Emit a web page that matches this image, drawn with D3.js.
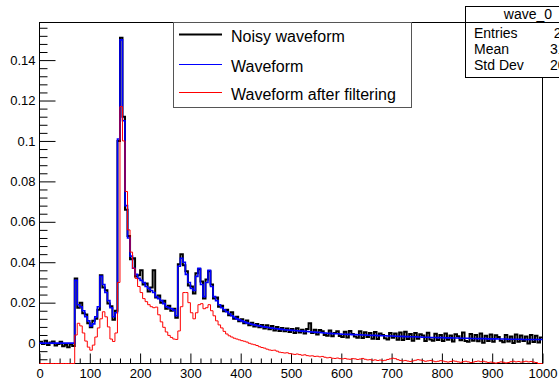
<!DOCTYPE html>
<html>
<head>
<meta charset="utf-8">
<script src="https://cdn.jsdelivr.net/npm/d3@7"></script>
<style>
  body { margin: 0; background: #fff; }
  svg { display: block; }
  text { font-family: "Liberation Sans", Arial, Helvetica, sans-serif; fill: #000; }
</style>
</head>
<body>
<svg id="chart" width="559" height="382"></svg>
<script>
// Histogram binning (bin width in samples) and axis ranges
const binWidth = 5;
const xRange = [0, 1000];
const yRange = [-0.0101, 0.1586];
const xTickValues = [0, 100, 200, 300, 400, 500, 600, 700, 800, 900, 1000];
const yTickValues = [0, 0.02, 0.04, 0.06, 0.08, 0.1, 0.12, 0.14];

// Noisy waveform, one value per bin
const noisy = [
  0.0006, -0.0004, 0.0011, -0.0009, 0.0003, 0.0008, -0.0012, -0.0005, 0.0007, -0.0016,
  -0.0008, -0.0020, -0.0006, -0.0014, 0.0320, 0.0175, 0.0200, 0.0148, 0.0142, 0.0098,
  0.0078, 0.0110, 0.0120, 0.0165, 0.0335, 0.0275, 0.0262, 0.0196, 0.0182, 0.0115,
  0.0160, 0.1000, 0.1510, 0.1120, 0.0660, 0.0530, 0.0415, 0.0420, 0.0330, 0.0335,
  0.0360, 0.0290, 0.0295, 0.0255, 0.0275, 0.0360, 0.0225, 0.0235, 0.0200, 0.0210,
  0.0170, 0.0185, 0.0160, 0.0170, 0.0125, 0.0390, 0.0440, 0.0385, 0.0355, 0.0285,
  0.0280, 0.0245, 0.0345, 0.0365, 0.0305, 0.0220, 0.0315, 0.0355, 0.0290, 0.0220,
  0.0225, 0.0180, 0.0185, 0.0158, 0.0165, 0.0138, 0.0152, 0.0120, 0.0130, 0.0108,
  0.0118, 0.0098, 0.0112, 0.0088, 0.0100, 0.0082, 0.0095, 0.0078, 0.0090, 0.0072,
  0.0088, 0.0068, 0.0085, 0.0062, 0.0080, 0.0060, 0.0075, 0.0058, 0.0072, 0.0055,
  0.0070, 0.0050, 0.0074, 0.0052, 0.0066, 0.0048, 0.0070, 0.0098, 0.0050, 0.0066,
  0.0042, 0.0065, 0.0058, 0.0040, 0.0036, 0.0062, 0.0034, 0.0050, 0.0058, 0.0035,
  0.0030, 0.0056, 0.0028, 0.0060, 0.0045, 0.0032, 0.0026, 0.0058, 0.0025, 0.0054,
  0.0030, 0.0050, 0.0022, 0.0055, 0.0020, 0.0048, 0.0040, 0.0024, 0.0018, 0.0050,
  0.0026, 0.0047, 0.0016, 0.0052, 0.0015, 0.0056, 0.0020, 0.0045, 0.0012, 0.0050,
  0.0022, 0.0044, 0.0038, 0.0010, 0.0051, 0.0018, 0.0012, 0.0046, 0.0015, 0.0040,
  0.0010, 0.0048, 0.0016, 0.0038, 0.0008, 0.0044, 0.0034, 0.0014, 0.0052, 0.0010,
  0.0006, 0.0045, 0.0012, 0.0040, 0.0009, 0.0048, 0.0002, 0.0036, 0.0010, 0.0043,
  0.0007, 0.0039, 0.0030, 0.0012, 0.0004, 0.0040, 0.0008, 0.0033, 0.0000, 0.0042,
  0.0006, 0.0038, 0.0010, 0.0032, -0.0002, 0.0040, 0.0005, 0.0036, 0.0003, 0.0028
];

// Clean waveform, one value per bin
const waveform = [
  0, 0, 0, 0, 0, 0, 0, 0, 0, 0,
  0, 0, 0, 0, 0.031, 0.019, 0.018, 0.016, 0.013, 0.011,
  0.0085, 0.0095, 0.013, 0.018, 0.033, 0.029, 0.025, 0.021, 0.0175, 0.013,
  0.015, 0.101, 0.150, 0.110, 0.068, 0.052, 0.043, 0.037, 0.034, 0.032,
  0.031, 0.030, 0.028, 0.027, 0.026, 0.025, 0.023, 0.022, 0.021, 0.0195,
  0.018, 0.0175, 0.017, 0.0163, 0.0135, 0.038, 0.042, 0.040, 0.034, 0.030,
  0.027, 0.026, 0.033, 0.037, 0.029, 0.023, 0.030, 0.036, 0.028, 0.023,
  0.021, 0.019, 0.0175, 0.0165, 0.0155, 0.0145, 0.0135, 0.0127, 0.012, 0.0115,
  0.011, 0.0105, 0.010, 0.0097, 0.0093, 0.009, 0.0087, 0.0085, 0.0082, 0.008,
  0.0078, 0.0076, 0.0074, 0.0072, 0.0071, 0.0069, 0.0068, 0.0066, 0.0065, 0.0064,
  0.0063, 0.0062, 0.0061, 0.0060, 0.0059, 0.0058, 0.0057, 0.0056, 0.0055, 0.0054,
  0.0053, 0.0052, 0.0051, 0.0050, 0.0049, 0.0048, 0.0047, 0.0046, 0.0046, 0.0045,
  0.0044, 0.0044, 0.0043, 0.0043, 0.0042, 0.0042, 0.0041, 0.0041, 0.0040, 0.0040,
  0.0039, 0.0039, 0.0038, 0.0038, 0.0037, 0.0037, 0.0036, 0.0036, 0.0035, 0.0035,
  0.0035, 0.0034, 0.0034, 0.0033, 0.0033, 0.0032, 0.0032, 0.0031, 0.0031, 0.0031,
  0.0030, 0.0030, 0.0029, 0.0029, 0.0029, 0.0028, 0.0028, 0.0028, 0.0027, 0.0027,
  0.0027, 0.0026, 0.0026, 0.0026, 0.0025, 0.0025, 0.0025, 0.0024, 0.0024, 0.0024,
  0.0024, 0.0023, 0.0023, 0.0023, 0.0022, 0.0022, 0.0022, 0.0022, 0.0021, 0.0021,
  0.0021, 0.0021, 0.0020, 0.0020, 0.0020, 0.0020, 0.0019, 0.0019, 0.0019, 0.0019,
  0.0019, 0.0019, 0.0018, 0.0018, 0.0018, 0.0018, 0.0018, 0.0018, 0.0018, 0.0018
];

// Waveform after filtering, one value per bin
const filtered = [
  -0.015, -0.015, -0.015, -0.015, -0.015, -0.015, -0.015, -0.015, -0.015, -0.015,
  -0.015, -0.015, -0.015, -0.012, 0.0040, 0.0098, 0.0085, 0.0050, 0.0010, -0.0020,
  -0.0035, -0.0010, 0.0030, 0.0075, 0.0120, 0.0155, 0.0130, 0.0080, 0.0020, 0.0008,
  0.0050, 0.0300, 0.1170, 0.1000, 0.0750, 0.0560, 0.0450, 0.0370, 0.0320, 0.0280,
  0.0250, 0.0220, 0.0205, 0.0190, 0.0180, 0.0175, 0.0178, 0.0140, 0.0105, 0.0078,
  0.0055, 0.0038, 0.0028, 0.0020, 0.0018, 0.0060, 0.0180, 0.0250, 0.0250, 0.0200,
  0.0150, 0.0120, 0.0150, 0.0190, 0.0195, 0.0170, 0.0175, 0.0190, 0.0160, 0.0135,
  0.0110, 0.0090, 0.0075, 0.0058, 0.0045, 0.0036, 0.0030, 0.0024, 0.0020, 0.0016,
  0.0012, 0.0009, 0.0005, -0.0001, -0.0005, -0.0008, -0.0012, -0.0018, -0.0022, -0.0025,
  -0.0030, -0.0034, -0.0036, -0.0035, -0.0040, -0.0045, -0.0047, -0.0049, -0.0048, -0.0052,
  -0.0054, -0.0056, -0.0054, -0.0057, -0.0060, -0.0058, -0.0062, -0.0064, -0.0063, -0.0066,
  -0.0065, -0.0068, -0.0066, -0.0070, -0.0073, -0.0071, -0.0075, -0.0076, -0.0074, -0.0077,
  -0.0078, -0.0076, -0.0079, -0.0080, -0.0077, -0.0078, -0.0081, -0.0079, -0.0076, -0.0080,
  -0.0083, -0.0082, -0.0085, -0.0083, -0.0086, -0.0084, -0.0087, -0.0085, -0.0081, -0.0078,
  -0.0075, -0.0077, -0.0082, -0.0086, -0.0088, -0.0086, -0.0089, -0.0091, -0.0088, -0.0085,
  -0.0082, -0.0084, -0.0087, -0.0090, -0.0088, -0.0086, -0.0089, -0.0092, -0.0090, -0.0087,
  -0.0089, -0.0092, -0.0094, -0.0091, -0.0088, -0.0090, -0.0093, -0.0095, -0.0092, -0.0090,
  -0.0093, -0.0096, -0.0094, -0.0091, -0.0089, -0.0092, -0.0090, -0.0093, -0.0096, -0.0094,
  -0.0097, -0.0099, -0.0096, -0.0093, -0.0095, -0.0098, -0.0096, -0.0092, -0.0090, -0.0093,
  -0.0091, -0.0094, -0.0092, -0.0090, -0.0093, -0.0091, -0.0094, -0.0096, -0.0120, -0.0150
];

const legendLabels = ["Noisy waveform", "Waveform", "Waveform after filtering"];
const statsTitle = "wave_0";
const statsNames = ["Entries", "Mean", "Std Dev"];
const statsValues = ["2000", "317.2", "206.4"];

// ---- drawing ----
const svg = d3.select("#chart");
const frame = { left: 39.5, right: 542.5, top: 22.5, bottom: 363.5 };

const x = d3.scaleLinear().domain(xRange).range([frame.left, frame.right]);
const y = d3.scaleLinear().domain(yRange).range([frame.bottom, frame.top]).clamp(true);

svg.append("rect").attr("width", 559).attr("height", 382).attr("fill", "#fff");

// Minor ticks (inward, ROOT style)
const xMinor = d3.range(xRange[0], xRange[1] + 1, 20).filter(v => v % 100 !== 0);
const yMinor = d3.range(-0.008, 0.1586, 0.004).map(v => +v.toFixed(3))
  .filter(v => Math.abs(v / 0.02 - Math.round(v / 0.02)) > 1e-6);

const tickFmt = v => v === 0 ? "0" : String(+v.toFixed(2));

const xAxisMinor = svg.append("g").attr("transform", `translate(0,${frame.bottom})`)
  .call(d3.axisBottom(x).tickValues(xMinor).tickSize(-5).tickFormat(""));
const xAxis = svg.append("g").attr("transform", `translate(0,${frame.bottom})`)
  .call(d3.axisBottom(x).tickValues(xTickValues).tickSize(-10).tickPadding(5).tickFormat(d3.format("d")));
const yAxisMinor = svg.append("g").attr("transform", `translate(${frame.left},0)`)
  .call(d3.axisLeft(y).tickValues(yMinor).tickSize(-8).tickFormat(""));
const yAxis = svg.append("g").attr("transform", `translate(${frame.left},0)`)
  .call(d3.axisLeft(y).tickValues(yTickValues).tickSize(-16).tickPadding(4).tickFormat(tickFmt));

[xAxisMinor, xAxis, yAxisMinor, yAxis].forEach(g => {
  g.select(".domain").remove();
  g.selectAll("line").attr("stroke", "#000");
  g.selectAll("text").attr("font-size", 13).attr("fill", "#000")
    .attr("font-family", "'Liberation Sans', Arial, Helvetica, sans-serif");
});

// Frame
svg.append("rect")
  .attr("x", frame.left).attr("y", frame.top)
  .attr("width", frame.right - frame.left).attr("height", frame.bottom - frame.top)
  .attr("fill", "none").attr("stroke", "#000").attr("stroke-width", 1);

// Step outline for a binned series
const stepLine = d3.line().curve(d3.curveStepAfter);
function histPath(values) {
  const pts = values.map((v, i) => [x(i * binWidth), y(v)]);
  pts.push([x(values.length * binWidth), y(values[values.length - 1])]);
  return stepLine(pts);
}

svg.append("defs").append("clipPath").attr("id", "plotClip")
  .append("rect").attr("x", frame.left - 1).attr("y", frame.top - 1)
  .attr("width", frame.right - frame.left + 2).attr("height", frame.bottom - frame.top + 2);

const plot = svg.append("g").attr("clip-path", "url(#plotClip)");
const series = [
  { values: noisy, color: "#000000", width: 2 },
  { values: waveform, color: "#0000ff", width: 1.6 },
  { values: filtered, color: "#ff0000", width: 1 }
];
series.forEach(s => {
  plot.append("path").attr("d", histPath(s.values))
    .attr("fill", "none").attr("stroke", s.color)
    .attr("stroke-width", s.width).attr("stroke-linejoin", "miter");
});

// Legend
const legend = svg.append("g");
legend.append("rect").attr("x", 173.5).attr("y", 22.5).attr("width", 238).attr("height", 85)
  .attr("fill", "#fff").attr("stroke", "#555").attr("stroke-width", 1);
const legendRows = [34.5, 64.5, 92.5];
legendLabels.forEach((label, i) => {
  legend.append("line").attr("x1", 179).attr("x2", 222)
    .attr("y1", legendRows[i]).attr("y2", legendRows[i])
    .attr("stroke", series[i].color).attr("stroke-width", i === 0 ? 2 : 1);
  legend.append("text").attr("x", 231).attr("y", legendRows[i] + 7)
    .attr("font-size", 16).text(label);
});

// Statistics box (runs past the right edge of the canvas)
const stats = svg.append("g");
stats.append("rect").attr("x", 465.5).attr("y", 6.5).attr("width", 140).attr("height", 71)
  .attr("fill", "#fff").attr("stroke", "#000").attr("stroke-width", 1);
stats.append("line").attr("x1", 465.5).attr("x2", 606).attr("y1", 22.5).attr("y2", 22.5)
  .attr("stroke", "#000").attr("stroke-width", 1);
stats.append("text").attr("x", 528).attr("y", 18.5).attr("text-anchor", "middle")
  .attr("font-size", 14).text(statsTitle);
statsNames.forEach((name, i) => {
  const by = 37.5 + i * 16;
  stats.append("text").attr("x", 474).attr("y", by).attr("font-size", 14).text(name);
  stats.append("text").attr("x", 585).attr("y", by).attr("text-anchor", "end")
    .attr("font-size", 14).text(statsValues[i]);
});
</script>
</body>
</html>
